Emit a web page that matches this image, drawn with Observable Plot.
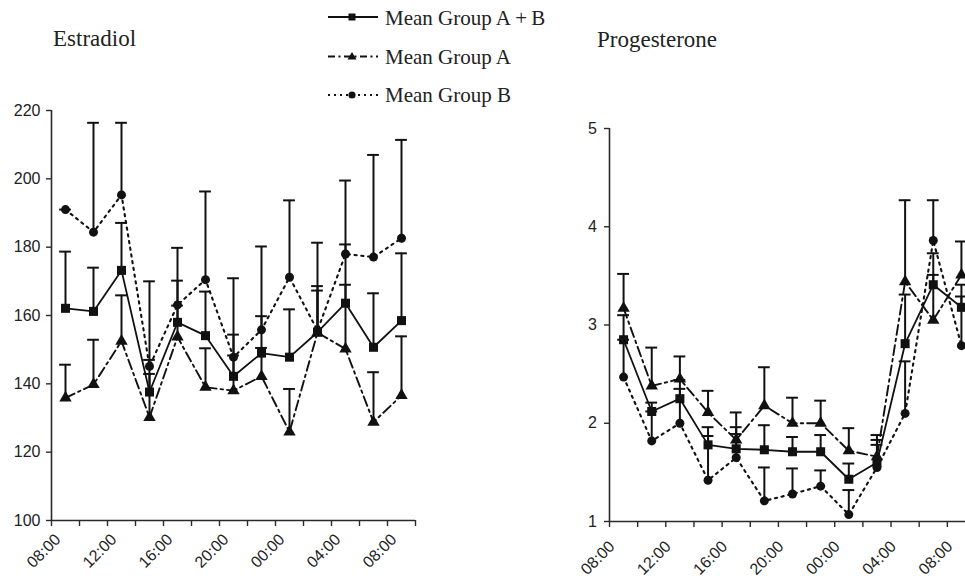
<!DOCTYPE html>
<html><head><meta charset="utf-8">
<script src="https://cdn.jsdelivr.net/npm/d3@7"></script>
<script src="https://cdn.jsdelivr.net/npm/@observablehq/plot@0.6"></script>
<style>
html,body{margin:0;padding:0;background:#fff;}
#wrap{position:relative;width:965px;height:584px;overflow:hidden;background:#fff;}
#wrap svg{position:absolute;top:0;}
</style></head>
<body><div id="wrap"></div>
<script>
// Category labels (2-hourly sampling over 24 h)
const times = ["08:00","10:00","12:00","14:00","16:00","18:00","20:00","22:00","00:00","02:00","04:00","06:00","08:00"];
const labelIdx = [0, 2, 4, 6, 8, 10, 12];

// Estradiol – means and upper error-bar ends
const e2AB   = [162.1, 161.2, 173.2, 137.6, 158.0, 154.1, 142.2, 149.0, 147.8, 155.1, 163.6, 150.7, 158.5];
const e2ABhi = [178.7, 174.0, 187.1, 147.0, 170.2, 167.0, 154.4, 159.8, 161.8, 167.3, 180.8, 166.5, 178.2];
const e2A    = [135.9, 139.8, 152.5, 130.2, 153.7, 139.0, 138.0, 142.2, 125.9, 155.0, 150.2, 128.8, 136.6];
const e2Ahi  = [145.6, 152.9, 165.9, 142.9, 162.9, 150.4, 148.3, 150.5, 138.5, 168.6, 169.0, 143.4, 153.9];
const e2B    = [191.0, 184.4, 195.3, 145.1, 163.1, 170.5, 147.8, 155.8, 171.2, 155.6, 178.0, 177.1, 182.6];
const e2Bhi  = [191.0, 216.4, 216.4, 170.0, 179.8, 196.3, 170.9, 180.2, 193.7, 181.3, 199.5, 207.0, 211.4];
const e2Ticks = [100, 120, 140, 160, 180, 200, 220];

// Progesterone – means and upper error-bar ends
const pAB   = [2.85, 2.12, 2.25, 1.78, 1.74, 1.73, 1.71, 1.71, 1.43, 1.60, 2.81, 3.41, 3.18];
const pABhi = [3.10, 2.21, 2.35, 1.96, 1.96, 1.98, 1.86, 1.88, 1.59, 1.83, 3.31, 3.51, 3.29];
const pA    = [3.17, 2.38, 2.45, 2.11, 1.83, 2.18, 2.00, 2.00, 1.72, 1.66, 3.44, 3.05, 3.51];
const pAhi  = [3.52, 2.77, 2.68, 2.33, 2.11, 2.57, 2.26, 2.23, 1.95, 1.88, 4.27, 3.73, 3.85];
const pB    = [2.47, 1.82, 2.00, 1.42, 1.65, 1.21, 1.28, 1.36, 1.07, 1.55, 2.10, 3.86, 2.79];
const pBhi  = [2.85, 2.12, 2.44, 1.87, 1.89, 1.55, 1.54, 1.52, 1.32, 1.78, 2.63, 4.27, 3.41];
const pTicks = [1, 2, 3, 4, 5];

const seriesNames = ["Mean Group A\u2009+\u2009B", "Mean Group A", "Mean Group B"];

const INK = "#111";
const AX = "#2a2a2a";
const styles = [
  {symbol: "square", r: 5.1, dash: null, width: 1.8},
  {symbol: "triangle", r: 4.6, dash: "10,4,2.5,4", width: 1.9},
  {symbol: "circle", r: 4.5, dash: "2.2,4.6", width: 2.1}
];

function rows(mean, hi) {
  return mean.map((m, i) => ({i, mean: m, hi: hi[i]}));
}

function panel(opts) {
  const {data, yDomain, yTicks, width, left, mL, mR, mT, mB, tickPad, ldx, ldy} = opts;
  const bounds = d3.range(times.length + 1).map(k => k - 0.5);
  const marks = [
    Plot.ruleX([-0.5], {stroke: AX, strokeWidth: 1.6}),
    Plot.ruleY([yDomain[0]], {stroke: AX, strokeWidth: 1.6}),
    Plot.axisY({ticks: yTicks, tickSize: 5, tickPadding: tickPad, stroke: AX, strokeWidth: 1.4, fill: "#222", tickFormat: d => String(d), label: null}),
    Plot.axisX({ticks: bounds, tickSize: 6, tickFormat: () => "", stroke: AX, strokeWidth: 1.4, label: null}),
    Plot.text(labelIdx, {x: d => d, frameAnchor: "bottom", text: d => times[d], rotate: -45, textAnchor: "end", lineAnchor: "bottom", dx: ldx, dy: ldy, fill: "#222"})
  ];
  data.forEach((s, k) => {
    const st = styles[k];
    const r = rows(s.mean, s.hi);
    marks.push(Plot.line(r, {x: "i", y: "mean", stroke: INK, strokeWidth: st.width, strokeDasharray: st.dash}));
  });
  data.forEach((s, k) => {
    const r = rows(s.mean, s.hi);
    marks.push(Plot.ruleX(r, {x: "i", y1: "mean", y2: "hi", stroke: INK, strokeWidth: 2}));
    marks.push(Plot.ruleY(r, {y: "hi", x1: d => d.i - 0.21, x2: d => d.i + 0.21, stroke: INK, strokeWidth: 2}));
  });
  data.forEach((s, k) => {
    const st = styles[k];
    const r = rows(s.mean, s.hi);
    marks.push(Plot.dot(r, {x: "i", y: "mean", symbol: st.symbol, r: st.r, fill: INK, stroke: "none"}));
  });
  const svg = Plot.plot({
    width, height: 584,
    marginLeft: mL, marginRight: mR, marginTop: mT, marginBottom: mB,
    x: {type: "linear", domain: [-0.5, times.length - 0.5]},
    y: {domain: yDomain},
    style: {fontFamily: "'Liberation Sans', Arial, sans-serif", fontSize: "16px", background: "transparent", overflow: "visible"},
    marks
  });
  svg.style.left = left + "px";
  return svg;
}

const wrap = document.getElementById("wrap");

wrap.appendChild(panel({
  data: [{mean: e2AB, hi: e2ABhi}, {mean: e2A, hi: e2Ahi}, {mean: e2B, hi: e2Bhi}],
  yDomain: [100, 220], yTicks: e2Ticks,
  width: 480, left: 0, mL: 51, mR: 65, mT: 110, mB: 64, tickPad: 6, ldx: -4, ldy: 20
}));

wrap.appendChild(panel({
  data: [{mean: pAB, hi: pABhi}, {mean: pA, hi: pAhi}, {mean: pB, hi: pBhi}],
  yDomain: [1, 5], yTicks: pTicks,
  width: 500, left: 480, mL: 129, mR: 5, mT: 128, mB: 63, tickPad: 7.5, ldx: -8, ldy: 26
}));

// Titles and legend overlay
const ns = "http://www.w3.org/2000/svg";
const ov = document.createElementNS(ns, "svg");
ov.setAttribute("width", 965); ov.setAttribute("height", 584);
ov.style.left = "0px"; ov.style.pointerEvents = "none";
function el(tag, attrs, parent) {
  const e = document.createElementNS(ns, tag);
  for (const k in attrs) e.setAttribute(k, attrs[k]);
  (parent || ov).appendChild(e);
  return e;
}
const serif = "'Liberation Serif', 'Times New Roman', serif";
el("text", {x: 53, y: 46, "font-family": serif, "font-size": 23, fill: "#222"}).textContent = "Estradiol";
el("text", {x: 597, y: 46.5, "font-family": serif, "font-size": 23, fill: "#222"}).textContent = "Progesterone";

const legY = [17, 56.5, 95];
const legText = [25, 64, 101.5];
seriesNames.forEach((name, k) => {
  const st = styles[k];
  const line = el("line", {x1: 328, x2: 378, y1: legY[k], y2: legY[k], stroke: INK, "stroke-width": st.width});
  if (st.dash) line.setAttribute("stroke-dasharray", k === 1 ? "7,3.5,2,3.5" : "2,4");
  const cx = 352, cy = legY[k];
  if (k === 0) el("rect", {x: cx - 3.5, y: cy - 3.5, width: 7, height: 7, fill: INK});
  else if (k === 1) el("path", {d: `M${cx},${cy - 4.5}L${cx + 4.5},${cy + 3}L${cx - 4.5},${cy + 3}Z`, fill: INK});
  else el("circle", {cx, cy, r: 3.6, fill: INK});
  el("text", {x: 385, y: legText[k], "font-family": serif, "font-size": 21, fill: "#222"}).textContent = name;
});
wrap.appendChild(ov);
</script>
</body></html>
